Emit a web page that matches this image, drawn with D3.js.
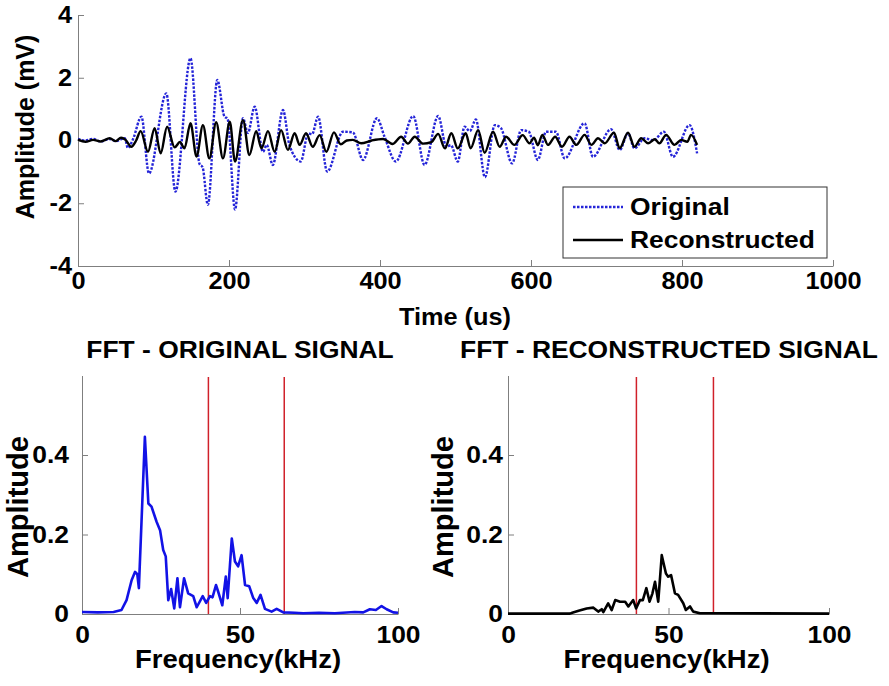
<!DOCTYPE html>
<html>
<head>
<meta charset="utf-8">
<script src="https://cdn.jsdelivr.net/npm/d3@7"></script>
<style>
  body { margin: 0; background: #fff; }
  text { font-family: "Liberation Sans", Arial, sans-serif; font-weight: bold; fill: #000; }
  .axis path, .axis line { stroke: #7f7f7f; stroke-width: 1; }
</style>
</head>
<body>
<svg id="chart" width="889" height="686"></svg>
<script>
// ---- top panel: time signals (peaks / troughs) ----
const origTime = [0, 9, 20, 30, 42, 50, 62, 66, 73, 84, 94, 117, 129, 149, 161, 165, 172, 184.5, 194, 198,
  208, 218.5, 225, 234, 245, 250, 258, 271.5, 280, 295, 305, 310, 318, 330, 351, 364, 377.5, 396, 406,
  421, 444, 459, 477, 488, 494, 503, 512, 519, 527, 539, 552, 560, 575, 587, 597, 609, 620, 633, 644.6,
  671, 682, 706, 717.5, 728.5, 737, 750.6, 762, 776, 788, 810, 820];
const origAmp = [0.05, 0.0, 0.05, -0.03, 0.05, -0.02, 0.07, -0.24, 0.05, 0.76, -1.05, 1.5, -1.63, 2.62, -0.75, -0.85, -2.05, 1.93, 0.76, 0.7,
  -2.2, 0.71, 0.24, 1.08, -0.36, -0.14, -0.78, 0.97, -0.14, -0.67, 0.23, 0.2, 0.76, -0.99, 0.28, 0.26, -0.62, 0.71, 0.12,
  -0.67, 0.78, -0.78, 0.78, -0.2, -0.15, -0.67, 0.44, 0.3, 0.67, -1.17, 0.49, 0.4, -0.73, 0.33, 0.28, -0.62, 0.28, 0.28, -0.57,
  0.55, -0.52, 0.36, -0.3, 0.23, -0.25, 0.07, 0.0, 0.28, -0.52, 0.49, -0.41];

const reconTime = [0, 10, 20, 30, 42, 50, 57, 63, 70.6, 77, 83, 92.7, 101.5, 109.5, 118, 128, 135, 141, 149, 157,
  165.5, 174, 183, 192, 201, 208, 218.5, 227, 236, 243, 251.6, 260.5, 269, 278, 287, 293.6, 302, 311, 320, 329,
  339, 348, 356, 364, 375, 389, 404, 417, 428, 437, 446, 457, 468, 477, 486, 494.5, 503, 513.5, 520, 530,
  538.6, 549.7, 558.5, 567, 578, 589, 598, 604, 609, 615, 622.5, 632, 641, 651, 660, 671, 680, 688.7, 697.6, 710,
  717.4, 728.5, 737, 746, 755, 764, 770, 779, 790, 799, 807, 812, 820];
const reconAmp = [0.03, -0.04, 0.02, -0.03, 0.07, -0.02, 0.09, 0.02, -0.2, 0.0, 0.3, -0.36, 0.39, -0.41, 0.44, -0.22, -0.05, -0.25, 0.55, -0.51,
  0.49, -0.57, 0.58, -0.57, 0.6, -0.67, 0.65, -0.46, 0.3, -0.25, 0.3, -0.36, 0.33, -0.3, 0.23, -0.14, 0.23, -0.2, 0.17, -0.36,
  0.26, -0.12, 0.0, 0.02, -0.09, 0.0, 0.05, -0.11, 0.12, -0.1, 0.12, -0.1, -0.05, 0.21, -0.25, 0.23, -0.25, 0.23, -0.25, 0.33,
  -0.39, 0.28, -0.2, 0.12, -0.14, 0.17, -0.09, 0.09, -0.15, 0.18, -0.14, 0.12, -0.2, 0.12, -0.14, 0.18, -0.14, 0.07, -0.09, 0.25,
  -0.25, 0.25, -0.2, 0.07, -0.09, 0.04, -0.09, 0.18, -0.14, 0.02, -0.04, 0.18, -0.14];

// ---- bottom panels: spectra ----
const fftOrigFreq = [0, 5, 10, 12.5, 14.1, 15.7, 16.8, 17.5, 18, 19.9, 21, 22, 23.6, 24.7, 25.7, 26.5, 27.3, 28.2, 29.2, 30.2,
  31, 32.3, 33.6, 35.2, 36.3, 38.2, 39.3, 40.5, 41.3, 42.4, 43.1, 44.4, 45.5, 46.1, 47.4, 48.4, 49.4, 50.5, 51.6, 52.9,
  54.2, 55.3, 56.5, 57.9, 60, 61.6, 63.7, 67.3, 70, 75, 80, 86.3, 89, 91.1, 93, 94.8, 96.4, 98.5, 100];
const fftOrigAmp = [0.005, 0.004, 0.005, 0.01, 0.035, 0.085, 0.106, 0.1, 0.065, 0.446, 0.278, 0.27, 0.232, 0.211, 0.161, 0.145, 0.035, 0.063, 0.014, 0.09,
  0.017, 0.09, 0.052, 0.045, 0.017, 0.045, 0.028, 0.045, 0.042, 0.073, 0.056, 0.022, 0.094, 0.04, 0.19, 0.132, 0.12, 0.148, 0.073, 0.07,
  0.04, 0.028, 0.048, 0.013, 0.006, 0.013, 0.004, 0.003, 0.002, 0.003, 0.002, 0.005, 0.004, 0.012, 0.01, 0.02, 0.012, 0.004, 0.003];

const fftReconFreq = [0, 19.3, 20, 22, 24.5, 26.6, 28.1, 29.2, 29.7, 31.2, 32.3, 33.4, 34.9, 36.5, 37.5, 39, 39.9, 41.1, 42, 43.1,
  44.1, 45, 45.8, 46.8, 47.9, 49.2, 49.9, 50.8, 52, 53, 54.6, 55.4, 56.7, 57.7, 59.8, 62.9, 100];
const fftReconAmp = [0.001, 0.001, 0.003, 0.008, 0.014, 0.016, 0.006, 0.012, 0.005, 0.027, 0.01, 0.035, 0.031, 0.031, 0.019, 0.035, 0.014, 0.035, 0.035, 0.065,
  0.031, 0.052, 0.081, 0.031, 0.148, 0.102, 0.094, 0.098, 0.052, 0.048, 0.027, 0.01, 0.019, 0.006, 0.002, 0.002, 0.001];

const bandEdges = [40, 64];   // red band limits (kHz)
const timeTicks = [0, 200, 400, 600, 800, 1000];
const mvTicks = [-4, -2, 0, 2, 4];
const freqTicks = [0, 50, 100];
const ampTicks = [0, 0.2, 0.4];

const sx = 1.1; // the picture's lettering is a bit wider than plain Arial
const svg = d3.select("#chart");

function label(x, y, txt, size, anchor) {
  svg.append("text")
    .attr("transform", `translate(${x},${y}) scale(${sx},1)`)
    .attr("text-anchor", anchor || "middle")
    .style("font-size", size + "px")
    .text(txt);
}
function vlabel(x, y, txt, size) {
  svg.append("text")
    .attr("transform", `translate(${x},${y}) rotate(-90)`)
    .attr("text-anchor", "middle")
    .style("font-size", size + "px")
    .text(txt);
}

function axes(x, y, xt, yt, size, xpad, ypad, fmtY) {
  const y0 = y.range()[0], x0 = x.range()[0];
  const gx = svg.append("g").attr("class", "axis")
    .attr("transform", `translate(0,${y0})`)
    .call(d3.axisBottom(x).tickValues(xt).tickSizeInner(-6).tickSizeOuter(0).tickPadding(xpad).tickFormat(d => String(d)));
  const gy = svg.append("g").attr("class", "axis")
    .attr("transform", `translate(${x0},0)`)
    .call(d3.axisLeft(y).tickValues(yt).tickSizeInner(-6).tickSizeOuter(0).tickPadding(ypad / sx).tickFormat(fmtY));
  [gx, gy].forEach(g => g.selectAll("text")
    .attr("fill", "#000")
    .style("font-size", size + "px")
    .style("font-family", '"Liberation Sans", Arial, sans-serif')
    .style("font-weight", "bold")
    .attr("transform", `scale(${sx},1)`));
}

// ---------- top panel ----------
const xT = d3.scaleLinear().domain([0, 1000]).range([78, 833]);
const yT = d3.scaleLinear().domain([-4, 4]).range([266, 15]);
axes(xT, yT, timeTicks, mvTicks, 23, 7, 6, d => String(d));

const lineT = d3.line().x(d => xT(d[0])).y(d => yT(d[1])).curve(d3.curveMonotoneX);
svg.append("path")
  .datum(origTime.map((t, i) => [t, origAmp[i]]))
  .attr("d", lineT).attr("fill", "none")
  .attr("stroke", "#2424d8").attr("stroke-width", 2.4).attr("stroke-dasharray", "2.5,1.5");
svg.append("path")
  .datum(reconTime.map((t, i) => [t, reconAmp[i]]))
  .attr("d", lineT).attr("fill", "none")
  .attr("stroke", "#000").attr("stroke-width", 2.4);

vlabel(34, 127, "Amplitude (mV)", 25);
label(455, 325, "Time (us)", 23);

// legend
const lg = svg.append("g");
lg.append("rect").attr("x", 563).attr("y", 187).attr("width", 264).attr("height", 71)
  .attr("fill", "#fff").attr("stroke", "#333").attr("stroke-width", 1);
lg.append("line").attr("x1", 573).attr("x2", 623).attr("y1", 207).attr("y2", 207)
  .attr("stroke", "#2424d8").attr("stroke-width", 2.4).attr("stroke-dasharray", "2.5,1.5");
lg.append("line").attr("x1", 573).attr("x2", 623).attr("y1", 240).attr("y2", 240)
  .attr("stroke", "#000").attr("stroke-width", 2.4);
label(630, 215, "Original", 24, "start");
label(630, 248, "Reconstructed", 24, "start");

// ---------- bottom panels ----------
function fftPanel(x0, x1, ypad, freq, amp, color, title, titleX) {
  const x = d3.scaleLinear().domain([0, 100]).range([x0, x1]);
  const y = d3.scaleLinear().domain([0, 0.6]).range([614, 375.5]);
  axes(x, y, freqTicks, ampTicks, 24, 12, ypad, d => d === 0 ? "0" : d3.format(".1f")(d));

  svg.append("g").selectAll("line").data(bandEdges).join("line")
    .attr("x1", d => x(d)).attr("x2", d => x(d))
    .attr("y1", y(0)).attr("y2", 377)
    .attr("stroke", "#d0202a").attr("stroke-width", 1.5);

  svg.append("path")
    .datum(freq.map((f, i) => [f, amp[i]]))
    .attr("d", d3.line().x(d => x(d[0])).y(d => y(d[1])))
    .attr("fill", "none").attr("stroke", color).attr("stroke-width", 2.6)
    .attr("stroke-linejoin", "round");

  label(titleX, 358, title, 24);
  label((x0 + x1) / 2 - 2, 668, "Frequency(kHz)", 25);
}
fftPanel(82, 398, 13, fftOrigFreq, fftOrigAmp, "#1212e6", "FFT - ORIGINAL SIGNAL", 240);
fftPanel(508, 829, 5, fftReconFreq, fftReconAmp, "#000", "FFT - RECONSTRUCTED SIGNAL", 669);

vlabel(28, 507, "Amplitude", 29);
vlabel(453, 507, "Amplitude", 29);
</script>
</body>
</html>
